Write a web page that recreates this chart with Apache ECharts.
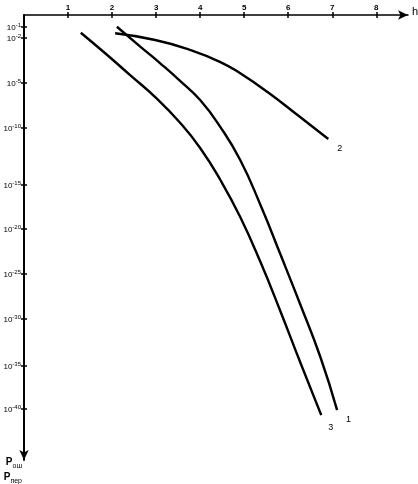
<!DOCTYPE html>
<html>
<head>
<meta charset="utf-8">
<script src="https://cdn.jsdelivr.net/npm/echarts@6/dist/echarts.min.js"></script>
<style>html,body{margin:0;padding:0;background:#fff}#c{width:418px;height:484px}</style>
</head>
<body>
<div id="c"></div>
<script>
// x-axis ticks (h)
const xTicks = [1, 2, 3, 4, 5, 6, 7, 8];
// y-axis: exponents of 10 shown as tick labels and their place on the (non-uniform) printed scale
const yTickExponents = [-1, -2, -5, -10, -15, -20, -25, -30, -35, -40];
const yTickScale = [1.33, 2.56, 7.56, 12.56, 18.89, 23.78, 28.78, 33.78, 39.0, 43.78];

// curve 1
const h1 = [2.11, 2.64, 3.10, 3.55, 4.00, 4.46, 4.91, 5.37, 5.82, 6.27, 6.73, 7.11];
const e1 = [-0.98, -2.57, -3.70, -4.87, -6.89, -9.89, -12.81, -17.27, -22.78, -28.33, -34.04, -40.12];
// curve 2
const h2 = [2.07, 2.98, 3.78, 4.46, 4.91, 5.53, 6.27, 6.91];
const e2 = [-1.57, -2.13, -2.80, -3.60, -4.35, -6.00, -8.78, -10.96];
// curve 3
const h3 = [1.29, 1.85, 2.41, 2.98, 3.55, 4.00, 4.46, 4.91, 5.37, 5.82, 6.27, 6.75];
const e3 = [-1.52, -3.03, -4.47, -6.56, -9.44, -11.75, -14.56, -18.64, -23.67, -29.11, -34.57, -40.70];

function expToScale(e) {
  const n = yTickExponents.length;
  let i = 0;
  if (e >= yTickExponents[0]) i = 0;
  else if (e <= yTickExponents[n - 1]) i = n - 2;
  else { while (!(e <= yTickExponents[i] && e >= yTickExponents[i + 1])) i++; }
  const t = (e - yTickExponents[i]) / (yTickExponents[i + 1] - yTickExponents[i]);
  return yTickScale[i] + t * (yTickScale[i + 1] - yTickScale[i]);
}
function build(h, e) { return h.map((v, i) => [v, expToScale(e[i])]); }

const FONT = 'Liberation Sans, Arial, sans-serif';
const X_MAX = 8.72, Y_MAX = 49.44;
const chart = echarts.init(document.getElementById('c'));

function lineSeries(name, h, e, offset) {
  return {
    name: name, type: 'line', smooth: 0.5, showSymbol: false, xAxisIndex: 0, yAxisIndex: 0,
    data: build(h, e),
    lineStyle: { color: '#000', width: 2.4 },
    endLabel: { show: true, formatter: name, fontSize: 9, fontFamily: FONT, color: '#000', offset: offset },
    animation: false
  };
}

chart.setOption({
  animation: false,
  grid: { left: 24, top: 15, right: 10, bottom: 24, containLabel: false, outerBoundsMode: 'none' },
  xAxis: [{
    type: 'value', position: 'top', min: 0, max: X_MAX,
    axisLine: { onZero: false, symbol: ['none', 'arrow'], symbolSize: [7, 10], lineStyle: { color: '#000', width: 1.5 } },
    axisTick: { customValues: xTicks, length: 3, lineStyle: { color: '#000', width: 1.5 } },
    axisLabel: { customValues: xTicks, margin: 3, fontSize: 8, fontWeight: 'bold', fontFamily: FONT, color: '#000' },
    splitLine: { show: false },
    name: 'h', nameLocation: 'end', nameGap: 4,
    nameTextStyle: { fontSize: 11, fontFamily: FONT, color: '#000', verticalAlign: 'bottom', lineHeight: 7 }
  }, {
    type: 'value', position: 'top', min: 0, max: X_MAX,
    axisLine: { show: false, onZero: false },
    axisTick: { customValues: xTicks, inside: true, length: 3, lineStyle: { color: '#000', width: 1.5 } },
    axisLabel: { show: false }, splitLine: { show: false }
  }],
  yAxis: [{
    type: 'value', position: 'left', inverse: true, min: 0, max: Y_MAX,
    axisLine: { onZero: false, symbol: ['arrow', 'none'], symbolSize: [7, 10], lineStyle: { color: '#000', width: 2 } },
    axisTick: { customValues: yTickScale, length: 3, lineStyle: { color: '#000', width: 1.5 } },
    axisLabel: {
      customValues: yTickScale, margin: 3, color: '#000', fontFamily: FONT,
      formatter: function (v) {
        let k = 0, best = 1e9;
        yTickScale.forEach((s, i) => { if (Math.abs(s - v) < best) { best = Math.abs(s - v); k = i; } });
        return '{b|10}{s|' + yTickExponents[k] + '}';
      },
      rich: {
        b: { fontSize: 8, fontFamily: FONT, color: '#000', verticalAlign: 'bottom', lineHeight: 10 },
        s: { fontSize: 6, fontFamily: FONT, color: '#000', verticalAlign: 'top', lineHeight: 10 }
      }
    },
    splitLine: { show: false },
    name: '{p|P}{sub|ош}\n{p|P}{sub|пер}', nameLocation: 'end', nameGap: -5,
    nameTextStyle: {
      align: 'right', verticalAlign: 'top', padding: [0, 2, 0, 0],
      rich: {
        p: { fontSize: 10, fontWeight: 'bold', fontFamily: FONT, color: '#000', lineHeight: 15 },
        sub: { fontSize: 7, fontFamily: FONT, color: '#000', verticalAlign: 'bottom', lineHeight: 11 }
      }
    }
  }, {
    type: 'value', position: 'left', inverse: true, min: 0, max: Y_MAX,
    axisLine: { show: false, onZero: false },
    axisTick: { customValues: yTickScale, inside: true, length: 3, lineStyle: { color: '#000', width: 1.5 } },
    axisLabel: { show: false }, splitLine: { show: false }
  }],
  series: [
    lineSeries('1', h1, e1, [1, 9]),
    lineSeries('2', h2, e2, [1, 10]),
    lineSeries('3', h3, e3, [-1, 12])
  ]
});
</script>
</body>
</html>
